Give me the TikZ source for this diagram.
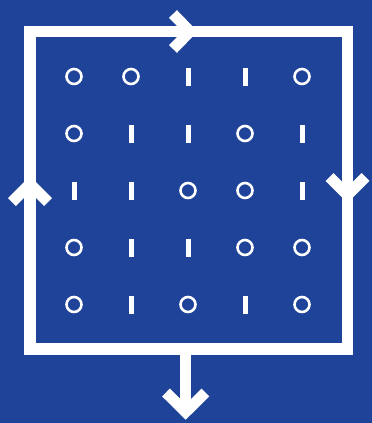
\documentclass[tikz,border=0pt]{standalone}
\usetikzlibrary{positioning}
\definecolor{bgblue}{HTML}{1E4398}
\tikzset{
  frame/.style={
    draw=white, line width=11.5pt, line join=miter
  },
  chevron/.style={
    draw=white, line width=11pt, line join=miter, line cap=butt
  },
  bit0/.style={
    circle, draw=white, line width=2.6pt,
    minimum size=15pt, inner sep=0pt
  },
  bit1/.style={
    rectangle, fill=white,
    minimum width=5pt, minimum height=18pt, inner sep=0pt
  }
}
\begin{document}
\begin{tikzpicture}[x=1pt, y=-1pt]
\fill[bgblue] (0,0) rectangle (372,423);
\useasboundingbox (0,0) rectangle (372,423);

% rahmen
\coordinate (tl) at (30,31.5);
\coordinate (br) at (347.5,349);
\draw[frame] (tl) rectangle (br);

% bits
\foreach \row [count=\r] in {{0,0,1,1,0},{0,1,1,0,1},{1,1,0,0,1},{0,1,1,0,0},{0,1,0,1,0}} {
  \foreach \b [count=\c] in \row {
    \node[bit\b] (b\r\c) at ({17+57*\c},{19.5+57*\r}) {};
  }
}

% pfeile am rahmen
\coordinate (toptip) at (190,31.5);
\draw[chevron] (173,14) -- (toptip) -- (173,49);
\coordinate (lefttip) at (30,184);
\draw[chevron] (12,202) -- (lefttip) -- (48,202);
\coordinate (righttip) at (347.5,195);
\draw[chevron] (329.5,177) -- (righttip) -- (365.5,177);

% ausgang
\coordinate (out) at (185.7,349);
\coordinate (outtip) at (185.7,412);
\draw[frame, line width=11pt] (out) -- (outtip);
\draw[chevron] (166,392.5) -- (outtip) -- (205.4,392.5);
\end{tikzpicture}
\end{document}
